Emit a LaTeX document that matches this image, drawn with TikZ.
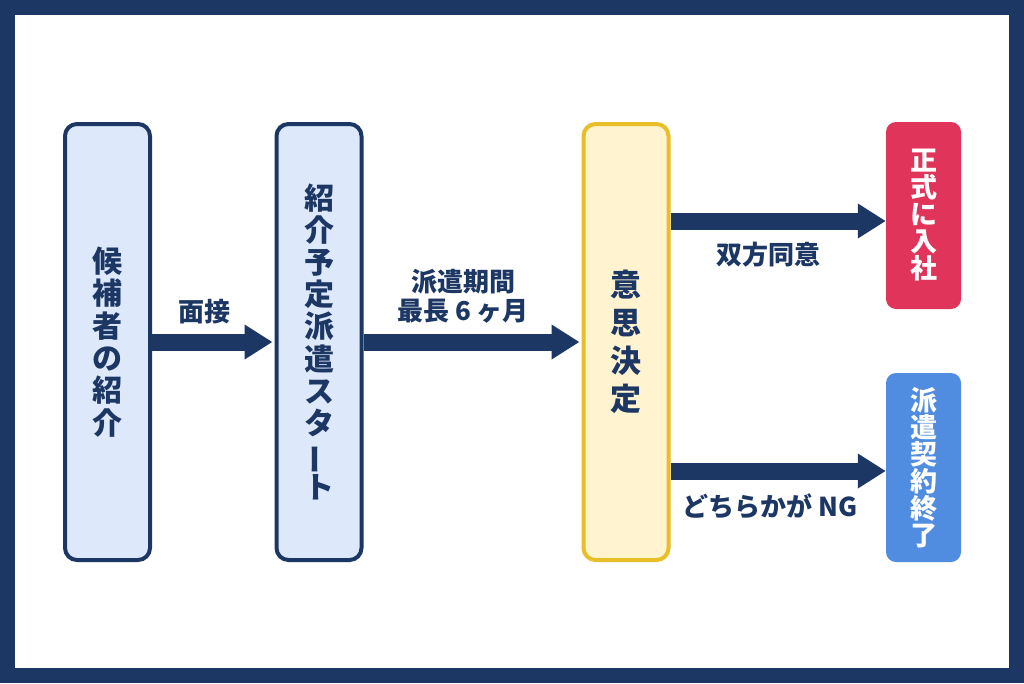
\documentclass[tikz,border=0pt]{standalone}
\usepackage{fontspec}
\setmainfont{Noto Sans CJK JP}
\usepackage{graphicx}
\usepackage{xcolor}
\usetikzlibrary{arrows.meta}

\definecolor{kon}{HTML}{1D3764}
\definecolor{mizuiro}{HTML}{DDE9FB}
\definecolor{kiiro}{HTML}{E9BE28}
\definecolor{usukiiro}{HTML}{FFF3D0}
\definecolor{aka}{HTML}{E0345A}
\definecolor{ao}{HTML}{508CE0}

\begin{document}
\begin{tikzpicture}[
  x=1pt, y=-1pt,
  hako/.style={draw=kon, fill=mizuiro, line width=4pt, rounded corners=12pt,
               minimum width=85pt, minimum height=436pt, inner sep=0pt,
               align=center, text=kon},
  kettei/.style={hako, draw=kiiro, fill=usukiiro},
  kekka/.style={fill=#1, rounded corners=10pt, minimum width=75pt,
                inner sep=0pt, align=center, text=white,
                font=\fontsize{27}{27}\selectfont\bfseries},
  midashi/.style={text=kon, align=center, inner sep=0pt,
                  font=\fontsize{26}{29}\selectfont\bfseries},
  yaji/.style={draw=kon, line width=17pt,
               -{Triangle[length=28pt,width=33pt]}}
]

%--------------------------------------------------------------
% Cornice
%--------------------------------------------------------------
\useasboundingbox (0,0) rectangle (1024,683);
\fill[kon] (0,0) rectangle (1024,683);
\fill[white] (15,15) rectangle (1009,668);

%--------------------------------------------------------------
% Flusso principale
%--------------------------------------------------------------
\node[hako, font=\fontsize{30}{32.4}\selectfont\bfseries]
  (shokai) at (107.5,342) {候\\補\\者\\の\\紹\\介};
\node[hako, font=\fontsize{30}{32.2}\selectfont\bfseries]
  (haken) at (319,342)
  {紹\\介\\予\\定\\派\\遣\\ス\\タ\\\rotatebox[origin=c]{90}{ー}\\ト};
\node[kettei, font=\fontsize{31}{38}\selectfont\bfseries]
  (ishi) at (626,342) {意\\思\\決\\定};

%--------------------------------------------------------------
% Esiti
%--------------------------------------------------------------
\node[kekka=aka, minimum height=187pt] (nyusha) at (923.5,215.5)
  {正\\式\\に\\入\\社};
\node[kekka=ao, minimum height=189pt] (shuryo) at (923.5,467.5)
  {派\\遣\\契\\約\\終\\了};

%--------------------------------------------------------------
% Frecce
%--------------------------------------------------------------
\draw[yaji, shorten >=2pt] (shokai) -- (haken);
\draw[yaji, shorten >=2pt] (haken) -- (ishi);

\coordinate (doui) at ([yshift=-5.5pt]nyusha.west);
\coordinate (ng) at ([yshift=-3.5pt]shuryo.west);
\draw[yaji] (ishi.east |- doui) -- (doui);
\draw[yaji] (ishi.east |- ng) -- (ng);

\node[midashi] (mensetsu) at (204,312) {面接};
\node[midashi] (kikan) at (463,296) {派遣期間\\最長 6 ヶ月};
\node[midashi] (souhou) at (768,255) {双方同意};
\node[midashi] (dochira) at (770,506) {どちらかが NG};

\end{tikzpicture}
\end{document}
